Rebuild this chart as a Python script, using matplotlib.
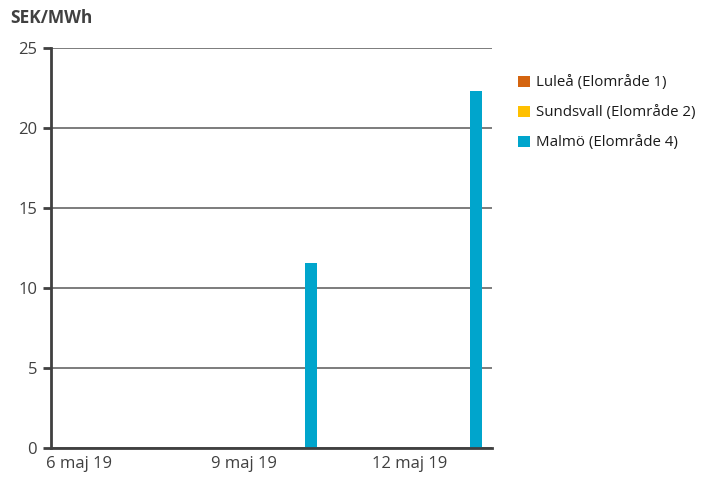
import numpy as np
import matplotlib.pyplot as plt
from matplotlib.patches import Patch

plt.rcParams['font.family'] = ['Open Sans', 'DejaVu Sans']

days = ['6 maj 19', '7 maj 19', '8 maj 19', '9 maj 19',
        '10 maj 19', '11 maj 19', '12 maj 19', '13 maj 19']
series_names = ['Luleå (Elområde 1)', 'Sundsvall (Elområde 2)', 'Malmö (Elområde 4)']
lulea = [0, 0, 0, 0, 0, 0, 0, 0]
sundsvall = [0, 0, 0, 0, 0, 0, 0, 0]
malmo = [0, 0, 0, 0, 11.55, 0, 0, 22.3]
colors = ['#D4640F', '#FFC000', '#00A5CC']

fig = plt.figure(figsize=(7.13, 4.84), dpi=100)
ax = fig.add_axes([0.0715, 0.0744, 0.6185, 0.8264])

x = np.arange(len(days))
w = 0.216
for i, (vals, c) in enumerate(zip([lulea, sundsvall, malmo], colors)):
    ax.bar(x + (i - 1) * w, vals, width=w, color=c, zorder=3)

ax.set_xlim(-0.5, len(days) - 0.5)
ax.set_ylim(0, 25)
ax.set_yticks([0, 5, 10, 15, 20, 25])
ax.set_xticks(x[::3])
ax.set_xticklabels(days[::3])
ax.grid(axis='y', color='#595959', linewidth=1.1, zorder=0)

for s in ['top', 'right']:
    ax.spines[s].set_visible(False)
for s in ['left', 'bottom']:
    ax.spines[s].set_color('#404040')
    ax.spines[s].set_linewidth(2)
ax.spines['bottom'].set_zorder(4)
ax.tick_params(axis='y', length=6, width=2, color='#404040', labelsize=12,
               labelcolor='#404040', pad=4)
ax.tick_params(axis='x', length=0, labelsize=12, labelcolor='#404040', pad=6)

fig.text(0.014, 0.962, 'SEK/MWh', fontsize=12.5, fontweight='bold',
         color='#404040', ha='left', va='center')

handles = [Patch(facecolor=c) for c in colors]
fig.legend(handles, series_names, loc='upper left', bbox_to_anchor=(0.708, 0.872),
           frameon=False, fontsize=10.8, handlelength=0.75, handleheight=0.75,
           handletextpad=0.4, labelspacing=1.0, labelcolor='#1a1a1a')

fig.savefig('out.png', dpi=100)
